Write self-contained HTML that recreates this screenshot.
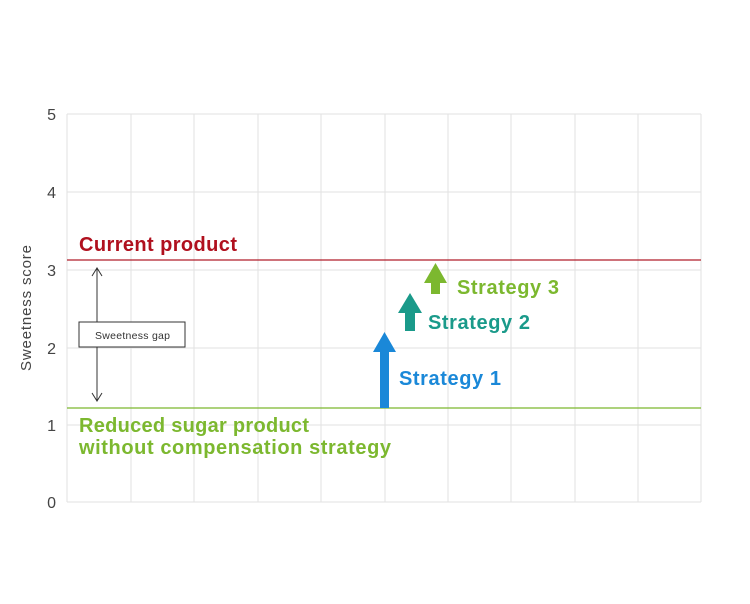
<!DOCTYPE html>
<html><head><style>
body{margin:0;background:#fff;}
svg text{font-family:"Liberation Sans",sans-serif;}
</style></head><body>
<svg width="750" height="599" viewBox="0 0 750 599" xmlns="http://www.w3.org/2000/svg">
<g stroke="#e2e2e2" stroke-width="1">
<line x1="67" y1="114" x2="701" y2="114"/><line x1="67" y1="192" x2="701" y2="192"/>
<line x1="67" y1="270" x2="701" y2="270"/><line x1="67" y1="348" x2="701" y2="348"/>
<line x1="67" y1="425" x2="701" y2="425"/><line x1="67" y1="502" x2="701" y2="502"/>
<line x1="67" y1="114" x2="67" y2="502"/><line x1="131" y1="114" x2="131" y2="502"/>
<line x1="194" y1="114" x2="194" y2="502"/><line x1="258" y1="114" x2="258" y2="502"/>
<line x1="321" y1="114" x2="321" y2="502"/><line x1="385" y1="114" x2="385" y2="502"/>
<line x1="448" y1="114" x2="448" y2="502"/><line x1="511" y1="114" x2="511" y2="502"/>
<line x1="575" y1="114" x2="575" y2="502"/><line x1="638" y1="114" x2="638" y2="502"/>
<line x1="701" y1="114" x2="701" y2="502"/>
</g>
<g fill="#444" font-size="16" text-anchor="end">
<text x="56" y="120">5</text><text x="56" y="198">4</text><text x="56" y="276">3</text>
<text x="56" y="354">2</text><text x="56" y="431">1</text><text x="56" y="508">0</text>
</g>
<text transform="translate(31,308) rotate(-90)" text-anchor="middle" fill="#444" font-size="15" textLength="126">Sweetness score</text>
<line x1="67" y1="260" x2="701" y2="260" stroke="#b01e2a" stroke-width="1.2"/>
<line x1="67" y1="408" x2="701" y2="408" stroke="#7cb82f" stroke-width="1.2"/>
<text x="79" y="251" fill="#b0101e" font-size="20" font-weight="bold" textLength="158">Current product</text>
<text x="79" y="432" fill="#7cb82f" font-size="20" font-weight="bold" textLength="230">Reduced sugar product</text>
<text x="79" y="454" fill="#7cb82f" font-size="20" font-weight="bold" textLength="312">without compensation strategy</text>
<g stroke="#333" stroke-width="1" fill="none">
<line x1="97" y1="268" x2="97" y2="401"/>
<polyline points="92,276 97,268 102,276"/>
<polyline points="92,393 97,401 102,393"/>
</g>
<rect x="79" y="322" width="106" height="25" fill="#fff" stroke="#333" stroke-width="1"/>
<text x="95" y="339" fill="#333" font-size="10.5" textLength="75">Sweetness gap</text>
<polygon points="380,408 389,408 389,352 396,352 384.5,332 373,352 380,352" fill="#1a88d8"/>
<polygon points="405,331 415,331 415,313 422,313 410,293 398,313 405,313" fill="#1a9a8a"/>
<polygon points="431,294 440,294 440,283 447,283 435.5,263 424,283 431,283" fill="#7cb82f"/>
<text x="457" y="294" fill="#7cb82f" font-size="20" font-weight="bold" textLength="102">Strategy 3</text>
<text x="428" y="329" fill="#1a9a8a" font-size="20" font-weight="bold" textLength="102">Strategy 2</text>
<text x="399" y="385" fill="#1a88d8" font-size="20" font-weight="bold" textLength="102">Strategy 1</text>
</svg>
</body></html>
